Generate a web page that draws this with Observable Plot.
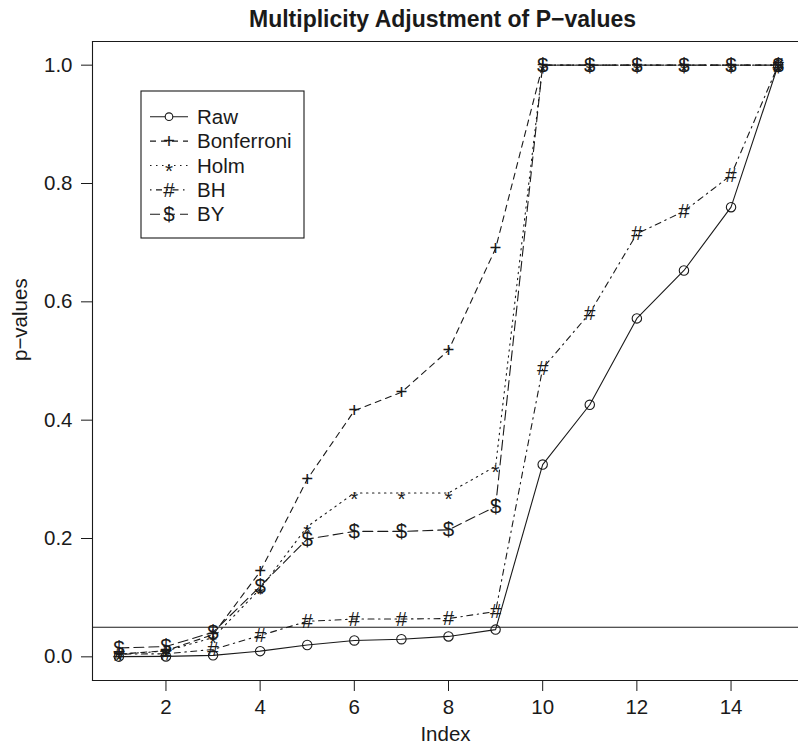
<!DOCTYPE html>
<html>
<head>
<meta charset="utf-8">
<script src="https://cdn.jsdelivr.net/npm/d3@7"></script>
<script src="https://cdn.jsdelivr.net/npm/@observablehq/plot@0.6"></script>
<style>
  html, body { margin: 0; padding: 0; background: white; }
  #chart { width: 798px; height: 745px; overflow: hidden; }
</style>
</head>
<body>
<div id="chart"></div>
<script>
const title = "Multiplicity Adjustment of P\u2212values";
const xLabel = "Index";
const yLabel = "p\u2212values";
const xTicks = [2, 4, 6, 8, 10, 12, 14];
const yTicks = [0.0, 0.2, 0.4, 0.6, 0.8, 1.0];
const cutoff = 0.05;

const index = [1, 2, 3, 4, 5, 6, 7, 8, 9, 10, 11, 12, 13, 14, 15];
const raw        = [0.0003, 0.0007, 0.0025, 0.0096, 0.020, 0.0277, 0.0298, 0.0345, 0.046, 0.325, 0.426, 0.572, 0.653, 0.760, 0.9998];
const bonferroni = [0.0045, 0.0105, 0.0375, 0.144, 0.300, 0.416, 0.447, 0.518, 0.690, 1, 1, 1, 1, 1, 1];
const holm       = [0.0045, 0.0098, 0.0325, 0.115, 0.220, 0.277, 0.277, 0.277, 0.322, 1, 1, 1, 1, 1, 1];
const bh         = [0.0045, 0.0052, 0.0125, 0.036, 0.060, 0.0639, 0.0639, 0.0647, 0.0767, 0.4875, 0.581, 0.715, 0.753, 0.814, 0.9998];
const by         = [0.015, 0.0174, 0.0415, 0.119, 0.199, 0.212, 0.212, 0.2147, 0.254, 1, 1, 1, 1, 1, 1];

const seriesNames = ["Raw", "Bonferroni", "Holm", "BH", "BY"];
const seriesValues = [raw, bonferroni, holm, bh, by];
const seriesSymbols = ["o", "+", "*", "#", "$"];
const seriesDash = ["none", "6,5", "1.5,4.5", "1.5,4.5,6,4.5", "10,5"];

const ink = "#1a1a1a";
const font = "'Liberation Sans', Arial, Helvetica, sans-serif";
const fs = 20.5;

const rows = [];
seriesNames.forEach((name, k) => {
  index.forEach((x, i) => rows.push({series: name, k, x, y: seriesValues[k][i], sym: seriesSymbols[k]}));
});

const lineMarks = seriesNames.map((name, k) =>
  Plot.line(rows.filter(d => d.k === k), {x: "x", y: "y", stroke: ink, strokeWidth: 1.1, strokeDasharray: seriesDash[k]})
);

const plot = Plot.plot({
  width: 798,
  height: 745,
  marginLeft: 92,
  marginRight: -6,
  marginTop: 41,
  marginBottom: 65,
  style: {fontFamily: font, fontSize: fs + "px", background: "white", color: ink},
  x: {domain: [0.44, 15.56]},
  y: {domain: [-0.04, 1.04]},
  marks: [
    Plot.frame({anchor: "top", stroke: ink, strokeWidth: 1.1}),
    Plot.frame({anchor: "bottom", stroke: ink, strokeWidth: 1.1}),
    Plot.frame({anchor: "left", stroke: ink, strokeWidth: 1.1}),
    Plot.axisX({ticks: xTicks, tickSize: 11, tickPadding: 8, label: null, fontSize: fs}),
    Plot.axisY({ticks: yTicks, tickSize: 11, tickPadding: 9, tickFormat: d3.format(".1f"), label: null, fontSize: fs}),
    Plot.ruleY([cutoff], {stroke: ink, strokeWidth: 1.1}),
    ...lineMarks,
    Plot.dot(rows.filter(d => d.sym === "o"), {x: "x", y: "y", r: 4.7, stroke: ink, strokeWidth: 1.1, fill: "none"}),
    Plot.text(rows.filter(d => d.sym !== "o" && d.sym !== "*"), {x: "x", y: "y", text: "sym", fontSize: fs, fill: ink}),
    Plot.text(rows.filter(d => d.sym === "*"), {x: "x", y: "y", text: "sym", fontSize: fs, fill: ink, lineAnchor: "top", dy: -2}),
    Plot.text([title], {frameAnchor: "top", dy: -31, dx: -6, fontSize: 23, fontWeight: "bold", fill: ink}),
    Plot.text([xLabel], {frameAnchor: "bottom", dy: 60, dx: -3, fontSize: fs, fill: ink}),
    Plot.text([yLabel], {frameAnchor: "left", dx: -72, rotate: -90, fontSize: fs, fill: ink})
  ]
});

// legend overlay
const svg = d3.select(plot);
const lg = svg.append("g").attr("font-family", font).attr("font-size", fs).attr("fill", ink);
lg.append("rect").attr("x", 141).attr("y", 91).attr("width", 163).attr("height", 147)
  .attr("fill", "white").attr("stroke", ink).attr("stroke-width", 1.1);
seriesNames.forEach((name, k) => {
  const yy = 116.7 + k * 24.4;
  lg.append("line").attr("x1", 150).attr("x2", 188).attr("y1", yy).attr("y2", yy)
    .attr("stroke", ink).attr("stroke-width", 1.1).attr("stroke-dasharray", seriesDash[k]);
  if (seriesSymbols[k] === "o") {
    lg.append("circle").attr("cx", 169).attr("cy", yy).attr("r", 3.8).attr("fill", "white").attr("stroke", ink).attr("stroke-width", 1.1);
  } else {
    lg.append("text").attr("x", 169).attr("y", yy).attr("text-anchor", "middle")
      .attr("dy", seriesSymbols[k] === "*" ? "0.62em" : "0.35em").text(seriesSymbols[k]);
  }
  lg.append("text").attr("x", 197).attr("y", yy).attr("dy", "0.35em").attr("text-anchor", "start").text(name);
});

document.getElementById("chart").appendChild(plot);
</script>
</body>
</html>
